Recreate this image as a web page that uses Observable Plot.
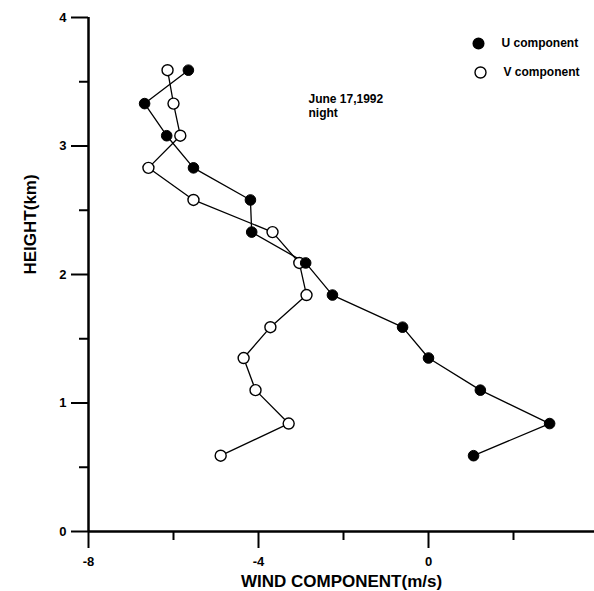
<!DOCTYPE html>
<html>
<head>
<meta charset="utf-8">
<script src="https://cdn.jsdelivr.net/npm/d3@7"></script>
<script src="https://cdn.jsdelivr.net/npm/@observablehq/plot@0.6"></script>
<style>
  html, body { margin: 0; padding: 0; background: #fff; }
  #chart { width: 594px; height: 591px; overflow: hidden; }
  #chart svg text { font-weight: bold; font-family: 'Liberation Sans', Arial, sans-serif; }
</style>
</head>
<body>
<div id="chart"></div>
<script>
// Heights (km) of the sounding levels
const heights = [0.59, 0.84, 1.10, 1.35, 1.59, 1.84, 2.09, 2.33, 2.58, 2.83, 3.08, 3.33, 3.59];
// U component (m/s)
const uValues = [1.06, 2.85, 1.22, 0.0, -0.61, -2.26, -2.89, -4.16, -4.19, -5.53, -6.16, -6.68, -5.65];
// V component (m/s)
const vValues = [-4.89, -3.29, -4.07, -4.35, -3.72, -2.87, -3.04, -3.67, -5.53, -6.59, -5.84, -6.00, -6.14];

const xMajorTicks = [-8, -4, 0, 4];
const xMinorTicks = [-6, -2, 2];
const yMajorTicks = [0, 1, 2, 3, 4];
const yMinorTicks = [0.5, 1.5, 2.5, 3.5];

const seriesNames = ["U component", "V component"];
const annotationLines = ["June 17,1992", "night"];
const xTitle = "WIND COMPONENT(m/s)";
const yTitle = "HEIGHT(km)";

const uData = heights.map((h, i) => ({height: h, value: uValues[i]}));
const vData = heights.map((h, i) => ({height: h, value: vValues[i]}));

const font = "'Liberation Sans', Arial, sans-serif";
const fmt = d => String(d); // plain hyphen-minus, integers

const plot = Plot.plot({
  width: 594,
  height: 591,
  marginLeft: 88,
  marginRight: 0,
  marginTop: 17,
  marginBottom: 60,
  style: {fontFamily: font, fontSize: "12px", fontWeight: "bold", background: "white", color: "black"},
  x: {domain: [-8, 4], range: [88, 598]},
  y: {domain: [0, 4], range: [531, 17]},
  marks: [
    // axes lines
    Plot.ruleY([0], {stroke: "black", strokeWidth: 2.5}),
    Plot.ruleX([-8], {stroke: "black", strokeWidth: 2.5}),
    // ticks
    Plot.axisX(xMajorTicks, {tickSize: 17, tickPadding: 8, strokeWidth: 2, label: null, tickFormat: fmt, fontSize: 13, fontWeight: "bold"}),
    Plot.axisX(xMinorTicks, {tickSize: 9, text: null, strokeWidth: 2, label: null}),
    Plot.axisY(yMajorTicks, {tickSize: 17, tickPadding: 5, strokeWidth: 2, label: null, tickFormat: fmt, fontSize: 13, fontWeight: "bold"}),
    Plot.axisY(yMinorTicks, {tickSize: 9, text: null, strokeWidth: 2, label: null}),
    // axis titles
    Plot.text([xTitle], {frameAnchor: "bottom", dy: 50, text: d => d, fontSize: 17, fontWeight: "bold", lineAnchor: "middle"}),
    Plot.text([yTitle], {frameAnchor: "left", dx: -58, rotate: -90, text: d => d, fontSize: 17, fontWeight: "bold", lineAnchor: "middle"}),
    // profiles
    Plot.line(vData, {x: "value", y: "height", stroke: "black", strokeWidth: 1.3}),
    Plot.line(uData, {x: "value", y: "height", stroke: "black", strokeWidth: 1.3}),
    Plot.dot(vData, {x: "value", y: "height", r: 5.5, fill: "white", stroke: "black", strokeWidth: 1.4}),
    Plot.dot(uData, {x: "value", y: "height", r: 5.3, fill: "black", stroke: "black", strokeWidth: 1}),
    // legend
    Plot.dot([seriesNames[0]], {frameAnchor: "top-left", dx: 390, dy: 26, r: 5.3, fill: "black", stroke: "black"}),
    Plot.dot([seriesNames[1]], {frameAnchor: "top-left", dx: 392, dy: 55, r: 5.5, fill: "white", stroke: "black", strokeWidth: 1.4}),
    Plot.text([seriesNames[0]], {frameAnchor: "top-left", dx: 413, dy: 26, text: d => d, textAnchor: "start", lineAnchor: "middle", fontSize: 12, fontWeight: "bold"}),
    Plot.text([seriesNames[1]], {frameAnchor: "top-left", dx: 415, dy: 55, text: d => d, textAnchor: "start", lineAnchor: "middle", fontSize: 12, fontWeight: "bold"}),
    // annotation
    Plot.text([annotationLines[0]], {frameAnchor: "top-left", dx: 220, dy: 82, text: d => d, textAnchor: "start", lineAnchor: "middle", fontSize: 12, fontWeight: "bold"}),
    Plot.text([annotationLines[1]], {frameAnchor: "top-left", dx: 220, dy: 96, text: d => d, textAnchor: "start", lineAnchor: "middle", fontSize: 12, fontWeight: "bold"})
  ]
});
document.getElementById("chart").appendChild(plot);
</script>
</body>
</html>
